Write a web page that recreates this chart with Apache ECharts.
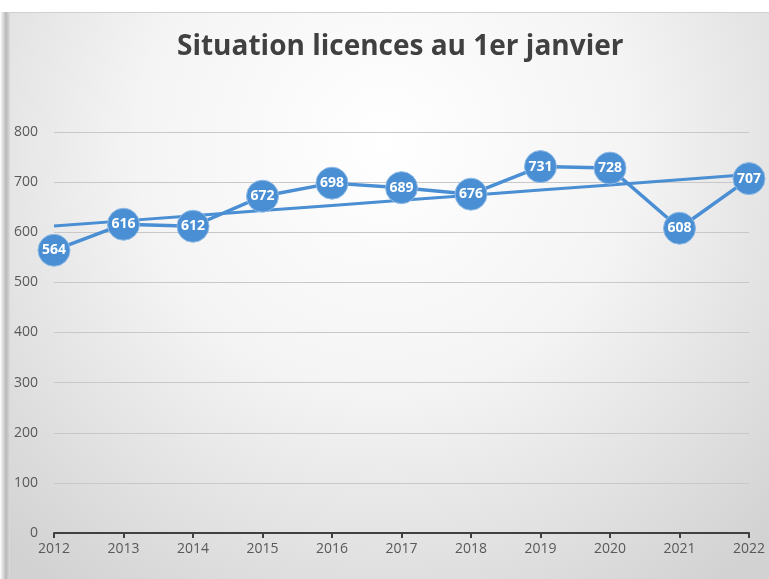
<!DOCTYPE html>
<html>
<head>
<meta charset="utf-8">
<script src="https://cdn.jsdelivr.net/npm/echarts@6/dist/echarts.min.js"></script>
<style>
  html, body { margin: 0; padding: 0; background: #fff; }
  #main { width: 769px; height: 579px; }
</style>
</head>
<body>
<div id="main"></div>
<script>
var years = ['2012', '2013', '2014', '2015', '2016', '2017', '2018', '2019', '2020', '2021', '2022'];
var licences = [564, 616, 612, 672, 698, 689, 676, 731, 728, 608, 707];
var yTicks = { min: 0, max: 800, interval: 100 };

// tendance linéaire (moindres carrés) comme dans Excel
function trend(values) {
    var n = values.length, sx = 0, sy = 0, sxy = 0, sxx = 0;
    values.forEach(function (v, i) { sx += i; sy += v; sxy += i * v; sxx += i * i; });
    var b = (n * sxy - sx * sy) / (n * sxx - sx * sx);
    var a = (sy - b * sx) / n;
    return values.map(function (v, i) { return +(a + b * i).toFixed(1); });
}

var myChart = echarts.init(document.getElementById('main'));
var blue = '#4a8ed3';

var option = {
    animation: false,
    backgroundColor: {
        type: 'radial', x: 0.5, y: 0.25, r: 0.95,
        colorStops: [
            { offset: 0, color: '#ffffff' },
            { offset: 0.45, color: '#f4f4f4' },
            { offset: 1, color: '#d2d2d2' }
        ]
    },
    graphic: [
        // bord de la capture : bande blanche en haut et ombre à gauche
        { type: 'rect', left: 0, top: 0, shape: { width: 769, height: 12 }, style: { fill: '#ffffff' }, silent: true },
        { type: 'line', shape: { x1: 8, y1: 12.5, x2: 769, y2: 12.5 }, style: { stroke: '#d0d0d0', lineWidth: 1 }, silent: true },
        {
            type: 'rect', left: 0, top: 12, shape: { width: 10, height: 567 },
            style: {
                fill: { type: 'linear', x: 0, y: 0, x2: 1, y2: 0,
                    colorStops: [{ offset: 0, color: '#ffffff' }, { offset: 0.6, color: '#b8b8b8' }, { offset: 1, color: '#dcdcdc' }] }
            },
            silent: true
        }
    ],
    title: {
        text: 'Situation licences au 1er janvier',
        left: 172,
        top: 28,
        textStyle: { fontFamily: 'Open Sans', fontWeight: 'bold', fontSize: 28, color: '#404040' }
    },
    grid: { left: 54, right: 20, top: 132, bottom: 46 },
    xAxis: {
        type: 'category',
        data: years,
        boundaryGap: false,
        axisLine: { lineStyle: { color: '#404040', width: 2 } },
        axisTick: { show: true, length: 5, lineStyle: { color: '#404040', width: 2 } },
        axisLabel: { color: '#595959', fontSize: 14, fontFamily: 'Open Sans', margin: 9 }
    },
    yAxis: {
        type: 'value',
        min: yTicks.min,
        max: yTicks.max,
        interval: yTicks.interval,
        axisLine: { show: false },
        axisTick: { show: false },
        axisLabel: { color: '#595959', fontSize: 14, fontFamily: 'Open Sans', margin: 16 },
        splitLine: { lineStyle: { color: '#c8c8c8', width: 1 } }
    },
    series: [
        {
            type: 'line',
            data: trend(licences),
            symbol: 'none',
            lineStyle: { color: blue, width: 3 },
            z: 2
        },
        {
            type: 'line',
            data: licences,
            symbol: 'circle',
            symbolSize: 32,
            lineStyle: { color: blue, width: 3.5 },
            itemStyle: { color: blue, borderColor: '#8fbbe6', borderWidth: 1 },
            label: {
                show: true,
                position: 'inside',
                color: '#ffffff',
                fontWeight: 'bold',
                fontSize: 14,
                fontFamily: 'Open Sans'
            },
            z: 3
        }
    ]
};

myChart.setOption(option);
window.addEventListener('resize', function () {
    myChart.resize();
});
</script>
</body>
</html>
